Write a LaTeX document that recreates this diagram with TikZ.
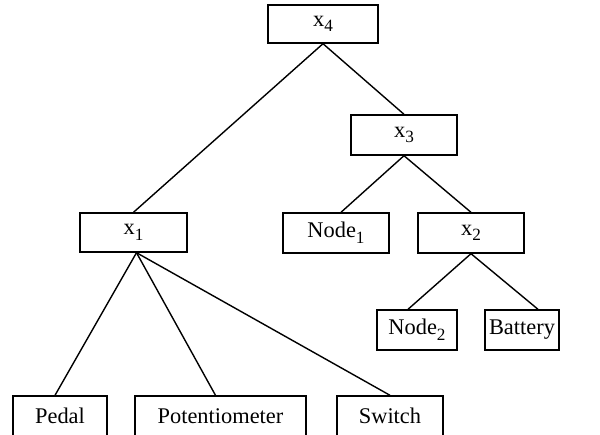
\documentclass[tikz,border=0pt]{standalone}
\usepackage{fontspec}
\setmainfont{Liberation Serif}
\usepackage{tikz}
\usetikzlibrary{calc,positioning}
\newcommand{\idx}[1]{\raisebox{-0.55ex}{\fontsize{8.6}{9}\selectfont #1}}
\tikzset{
    box/.style = {draw, rectangle, line width=0.7pt, minimum height=20pt, inner sep=0pt,
                  font=\fontsize{11.2}{13}\selectfont},
    link/.style = {line width=0.7pt, draw=black}
}

\begin{document}
\begin{tikzpicture}[x=0.5pt, y=-0.5pt]
\clip (0,0) rectangle (600,434);

% ---- upper levels ----
\node[box, minimum width=55pt, minimum height=19pt] (x4) at (323,24) {x\idx{4}};
\node[box, minimum width=53pt] (x3) at (404,135) {x\idx{3}};
\node[box, minimum width=53pt] (node1) at (336,233) {Node\idx{1}};
\node[box, minimum width=53pt] (x2) at (471,233) {x\idx{2}};
\node[box, minimum width=53.5pt, minimum height=19.5pt] (x1) at (133.5,232.5) {x\idx{1}};

% ---- leaves ----
\node[box, minimum width=40pt] (node2) at (417,330) {Node\idx{2}};
\node[box, minimum width=37pt] (battery) at (522,330) {Battery};
\node[box, minimum width=47pt] (pedal) at (60,416) {Pedal};
\node[box, minimum width=85.5pt] (potentiometer) at (220.5,416) {Potentiometer};
\node[box, minimum width=53pt] (switch) at (390,416) {Switch};

% ---- edges ----
\draw[link] (x4.south) -- (x1.north);
\draw[link] (x4.south) -- (x3.north);
\draw[link] (x3.south) -- ($(node1.north)+(5,0)$);
\draw[link] (x3.south) -- (x2.north);
\draw[link] (x2.south) -- ($(node2.north)+(-9,0)$);
\draw[link] (x2.south) -- ($(battery.north)+(16,0)$);
\draw[link] ($(x1.south)+(3,0)$) -- ($(pedal.north)+(-5,0)$);
\draw[link] ($(x1.south)+(3,0)$) -- ($(potentiometer.north)+(-5,0)$);
\draw[link] ($(x1.south)+(3,0)$) -- (switch.north);

\end{tikzpicture}
\end{document}
